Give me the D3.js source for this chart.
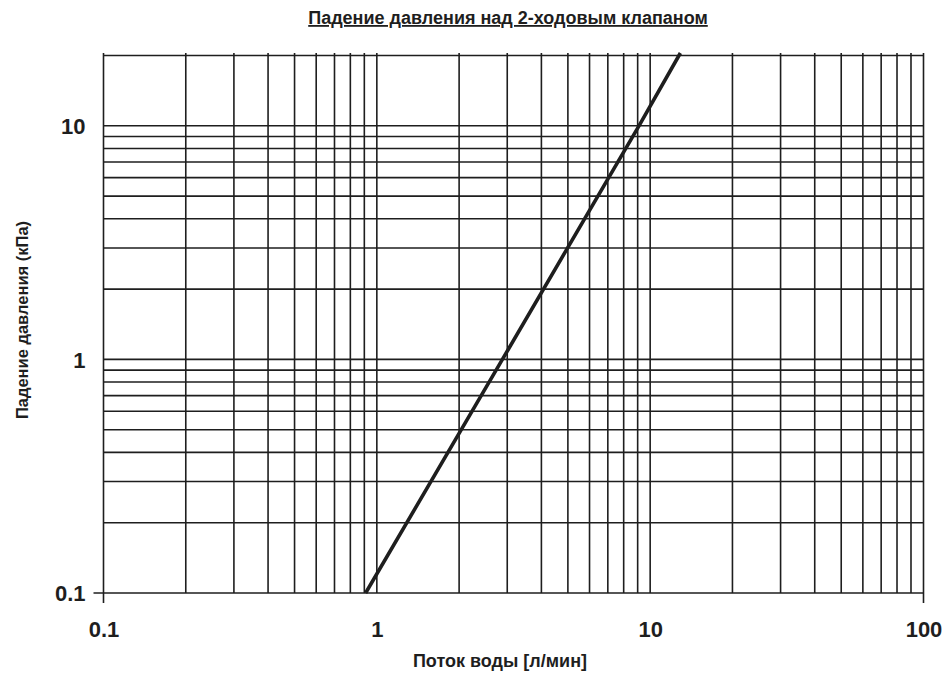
<!DOCTYPE html>
<html><head><meta charset="utf-8">
<script src="https://cdn.jsdelivr.net/npm/d3@7"></script>
<style>
body{margin:0;background:#fff;}
text{font-family:"Liberation Sans",Arial,sans-serif;font-weight:bold;fill:#1e1e1e;}
</style></head>
<body>
<svg id="chart" width="946" height="675"></svg>
<script>
const title = "Падение давления над 2-ходовым клапаном";
const xLabel = "Поток воды [л/мин]";
const yLabel = "Падение давления (кПа)";
const xDomain = [0.1, 100];
const yDomain = [0.1, 20];
const xTickLabels = [0.1, 1, 10, 100];
const yTickLabels = [0.1, 1, 10];
const xGrid = [0.1,0.2,0.3,0.4,0.5,0.6,0.7,0.8,0.9,1,2,3,4,5,6,7,8,9,10,20,30,40,50,60,70,80,90,100];
const yGrid = [0.1,0.2,0.3,0.4,0.5,0.6,0.7,0.8,0.9,1,2,3,4,5,6,7,8,9,10,20];
const flow = [0.91, 2.88, 9.1, 12.9];
const drop = [0.1, 1, 10, 20.5];

const svg = d3.select("#chart");
const x = d3.scaleLog().domain(xDomain).range([103.5, 923.5]);
const y = d3.scaleLog().domain(yDomain).range([593, 55.5]);
const ink = "#1e1e1e";

// vertical grid lines
svg.append("g").selectAll("line").data(xGrid).join("line")
  .attr("x1", d => x(d)).attr("x2", d => x(d))
  .attr("y1", y(yDomain[1]) - 2.5)
  .attr("y2", (d, i) => (i === 0 || i === xGrid.length - 1) ? y(yDomain[0]) + 10 : y(yDomain[0]))
  .attr("stroke", ink).attr("stroke-width", 1.6);

// horizontal grid lines
svg.append("g").selectAll("line").data(yGrid).join("line")
  .attr("y1", d => y(d)).attr("y2", d => y(d))
  .attr("x1", (d, i) => i === 0 ? x(xDomain[0]) - 10 : x(xDomain[0]))
  .attr("x2", x(xDomain[1]))
  .attr("stroke", ink).attr("stroke-width", 1.6);

// axis tick labels
const xAxis = d3.axisBottom(x).tickValues(xTickLabels).tickFormat(d3.format("")).tickSize(0).tickPadding(0);
const gx = svg.append("g").attr("transform", `translate(0,${y(yDomain[0])})`).call(xAxis);
gx.select(".domain").remove();
gx.selectAll("text").attr("font-size", 22).attr("dy", null).attr("y", 44)
  .style("font-family", '"Liberation Sans",Arial,sans-serif').style("font-weight", "bold").attr("fill", ink);

const yAxis = d3.axisLeft(y).tickValues(yTickLabels).tickFormat(d3.format("")).tickSize(0).tickPadding(0);
const gy = svg.append("g").attr("transform", `translate(${x(xDomain[0])},0)`).call(yAxis);
gy.select(".domain").remove();
gy.selectAll("text").attr("font-size", 22).attr("x", -18).attr("dy", "0.36em")
  .style("font-family", '"Liberation Sans",Arial,sans-serif').style("font-weight", "bold").attr("fill", ink);

// curve
const line = d3.line().x((d, i) => x(flow[i])).y(d => y(d));
svg.append("path").datum(drop).attr("d", line)
  .attr("fill", "none").attr("stroke", ink).attr("stroke-width", 3.6);

// titles
svg.append("text").attr("x", 508).attr("y", 24).attr("text-anchor", "middle")
  .attr("font-size", 18).style("text-decoration", "underline").text(title);
svg.append("text").attr("x", 500).attr("y", 667).attr("text-anchor", "middle")
  .attr("font-size", 18).text(xLabel);
svg.append("text").attr("transform", "translate(27.5,320) rotate(-90)").attr("text-anchor", "middle")
  .attr("font-size", 16.5).text(yLabel);
</script>
</body></html>
